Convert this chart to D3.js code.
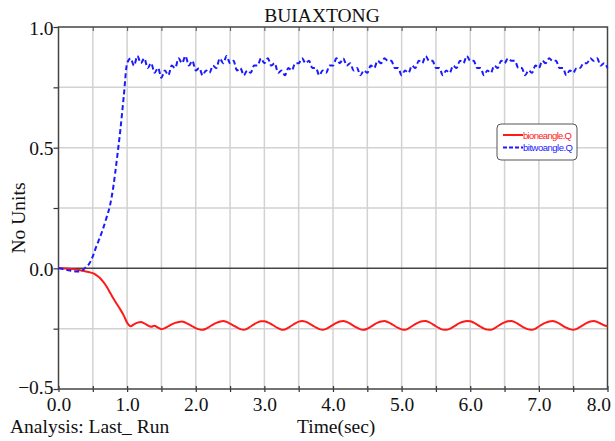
<!DOCTYPE html>
<html><head><meta charset="utf-8">
<script src="https://cdn.jsdelivr.net/npm/d3@7"></script>
<style>body{margin:0;background:#fff}svg{display:block}</style>
</head><body>
<script>
const title = "BUIAXTONG";
const yLabel = "No Units";
const xLabel = "Time(sec)";
const footLabel = "Analysis: Last_ Run";
const seriesNames = ["bioneangle.Q", "bitwoangle.Q"];
const xTickValues = [0,1,2,3,4,5,6,7,8];
const yTickValues = [-0.5,0,0.5,1.0];
const timeStep = 0.05;
const redValues = [
0,0,-0.001,-0.002,-0.003,-0.005,-0.007,-0.01,-0.013,-0.016,
-0.02,-0.028,-0.039,-0.055,-0.075,-0.1,-0.125,-0.148,-0.17,-0.195,
-0.225,-0.240,-0.232,-0.225,-0.222,-0.228,-0.236,-0.242,-0.238,-0.246,
-0.252,-0.248,-0.240,-0.232,-0.226,-0.222,-0.220,-0.225,-0.232,-0.240,
-0.248,-0.253,-0.255,-0.250,-0.242,-0.233,-0.226,-0.221,-0.218,-0.222,
-0.229,-0.237,-0.245,-0.252,-0.255,-0.250,-0.241,-0.232,-0.224,-0.219,
-0.219,-0.224,-0.231,-0.240,-0.248,-0.254,-0.253,-0.246,-0.237,-0.228,
-0.221,-0.218,-0.221,-0.228,-0.236,-0.245,-0.252,-0.255,-0.251,-0.243,
-0.234,-0.226,-0.220,-0.218,-0.222,-0.229,-0.238,-0.246,-0.253,-0.255,
-0.250,-0.242,-0.233,-0.225,-0.220,-0.218,-0.223,-0.230,-0.239,-0.247,
-0.253,-0.255,-0.249,-0.240,-0.231,-0.224,-0.219,-0.218,-0.223,-0.231,
-0.240,-0.248,-0.254,-0.255,-0.251,-0.243,-0.234,-0.226,-0.221,-0.218,
-0.219,-0.225,-0.233,-0.242,-0.250,-0.254,-0.255,-0.249,-0.240,-0.231,
-0.224,-0.219,-0.218,-0.223,-0.231,-0.240,-0.248,-0.253,-0.255,-0.250,
-0.241,-0.232,-0.225,-0.220,-0.218,-0.222,-0.229,-0.238,-0.246,-0.252,
-0.255,-0.251,-0.243,-0.234,-0.226,-0.220,-0.218,-0.222,-0.229,-0.236,
-0.240];
const blueValues = [
0,-0.002,-0.005,-0.008,-0.011,-0.013,-0.013,-0.008,0.005,0.02,
0.05,0.09,0.125,0.165,0.21,0.26,0.34,0.45,0.57,0.71,
0.85,0.87,0.84,0.88,0.85,0.87,0.83,0.85,0.81,0.83,
0.79,0.82,0.80,0.84,0.83,0.87,0.85,0.88,0.84,0.86,
0.82,0.83,0.80,0.82,0.81,0.84,0.83,0.87,0.85,0.88,
0.85,0.86,0.82,0.83,0.80,0.82,0.81,0.84,0.84,0.87,
0.85,0.87,0.84,0.85,0.81,0.82,0.80,0.83,0.82,0.85,
0.85,0.87,0.85,0.86,0.83,0.83,0.80,0.82,0.81,0.84,
0.84,0.87,0.85,0.87,0.84,0.85,0.82,0.83,0.80,0.82,
0.81,0.84,0.83,0.86,0.85,0.87,0.86,0.86,0.83,0.83,
0.80,0.82,0.81,0.84,0.83,0.86,0.85,0.88,0.86,0.86,
0.83,0.83,0.80,0.82,0.81,0.84,0.83,0.86,0.85,0.88,
0.86,0.86,0.83,0.83,0.80,0.82,0.81,0.84,0.83,0.86,
0.85,0.87,0.86,0.86,0.83,0.83,0.80,0.82,0.81,0.84,
0.83,0.86,0.85,0.87,0.86,0.86,0.83,0.83,0.80,0.82,
0.81,0.83,0.83,0.85,0.85,0.87,0.86,0.87,0.84,0.85,
0.83];

const W = 615, H = 441;
const m = {l:58.5, r:7.5, t:27, b:52};
const svg = d3.select("body").append("svg").attr("width",W).attr("height",H);
const x = d3.scaleLinear().domain([0,8]).range([m.l, W-m.r]);
const y = d3.scaleLinear().domain([-0.5,1.0]).range([H-m.b, m.t]);
const serif = "'Liberation Serif','Times New Roman',serif";
const fs = 19.5;

// grid
const gx = d3.range(0.5, 8, 0.5), gy = [-0.25,0.25,0.5,0.75];
svg.append("g").selectAll("line").data(gx).join("line")
  .attr("x1",d=>x(d)).attr("x2",d=>x(d)).attr("y1",y(1)).attr("y2",y(-0.5))
  .attr("stroke","#d2d2d2").attr("stroke-width",1.5);
svg.append("g").selectAll("line").data(gy).join("line")
  .attr("y1",d=>y(d)).attr("y2",d=>y(d)).attr("x1",x(0)).attr("x2",x(8))
  .attr("stroke","#d2d2d2").attr("stroke-width",1.5);

// axes
const xb = d3.axisBottom(x).tickValues(d3.range(0,8.01,0.5)).tickSize(3).tickFormat("");
svg.append("g").attr("transform",`translate(0,${y(-0.5)})`).call(xb)
  .call(g=>g.select(".domain").remove())
  .call(g=>g.selectAll("line").attr("y1",-3).attr("stroke","#333").attr("stroke-width",1.2));
svg.append("g").attr("transform",`translate(0,${y(1)})`).call(d3.axisBottom(x).tickValues(d3.range(0.5,8,0.5)).tickSize(4).tickFormat(""))
  .call(g=>g.select(".domain").remove())
  .call(g=>g.selectAll("line").attr("stroke","#555").attr("stroke-width",1));
const xl = d3.axisBottom(x).tickValues(xTickValues).tickSize(0).tickPadding(8).tickFormat(d3.format(".1f"));
svg.append("g").attr("transform",`translate(0,${y(-0.5)})`).call(xl)
  .call(g=>g.select(".domain").remove())
  .call(g=>g.selectAll("text").attr("font-family",serif).attr("font-size",fs).attr("fill","#111")
     .attr("text-anchor",d=>d===8?"end":"middle").attr("dx",d=>d===8?3:0));
const yl = d3.axisLeft(y).tickValues([-0.5,-0.25,0,0.25,0.5,0.75,1]).tickSize(5).tickFormat(d=>yTickValues.includes(d)?d3.format(".1f")(d):"");
svg.append("g").attr("transform",`translate(${x(0)},0)`).call(yl)
  .call(g=>g.select(".domain").remove())
  .call(g=>g.selectAll("line").attr("stroke","#333").attr("stroke-width",1.2))
  .call(g=>g.selectAll("text").attr("font-family",serif).attr("font-size",fs).attr("fill","#111").attr("dx",3).attr("dy",d=>d===-0.5?"0.25em":"0.36em"));

// zero line
svg.append("line").attr("x1",x(0)).attr("x2",x(8)).attr("y1",y(0)).attr("y2",y(0))
  .attr("stroke","#444").attr("stroke-width",1.5);
// frame
svg.append("rect").attr("x",x(0)).attr("y",y(1)).attr("width",x(8)-x(0)).attr("height",y(-0.5)-y(1))
  .attr("fill","none").attr("stroke","#444").attr("stroke-width",1.5);

const line = d3.line().x((d,i)=>x(i*timeStep)).y(d=>y(d)).curve(d3.curveMonotoneX);
svg.append("path").datum(redValues).attr("d",line).attr("fill","none").attr("stroke","#ff1a1a").attr("stroke-width",2);
svg.append("path").datum(blueValues).attr("d",line).attr("fill","none").attr("stroke","#1a1aff").attr("stroke-width",2).attr("stroke-dasharray","5,3");

// texts
svg.append("text").attr("x",322).attr("y",22).attr("text-anchor","middle").attr("font-family",serif).attr("font-size",fs).attr("fill","#111").text(title);
svg.append("text").attr("transform","translate(25,218) rotate(-90)").attr("text-anchor","middle").attr("font-family",serif).attr("font-size",fs).attr("fill","#111").text(yLabel);
svg.append("text").attr("x",10).attr("y",433).attr("font-family",serif).attr("font-size",fs).attr("fill","#111").text(footLabel);
svg.append("text").attr("x",297).attr("y",433).attr("font-family",serif).attr("font-size",fs).attr("fill","#111").text(xLabel);

// legend
const lg = svg.append("g").attr("transform","translate(497,124)");
lg.append("rect").attr("width",80).attr("height",36).attr("rx",4).attr("fill","#fff").attr("stroke","#555").attr("stroke-width",1);
const colors = ["#ff1a1a","#1a1aff"];
seriesNames.forEach((n,i)=>{
  lg.append("line").attr("x1",6).attr("x2",26).attr("y1",11+i*12.5).attr("y2",11+i*12.5)
    .attr("stroke",colors[i]).attr("stroke-width",2).attr("stroke-dasharray",i?"4,2":null);
  lg.append("text").attr("x",26).attr("y",14.5+i*12.5).attr("font-family","'Liberation Sans Narrow','Liberation Sans',Arial,sans-serif")
    .attr("font-size",9.5).attr("fill",colors[i]).attr("textLength",i?50:49).text(n);
});
</script>
</body></html>
